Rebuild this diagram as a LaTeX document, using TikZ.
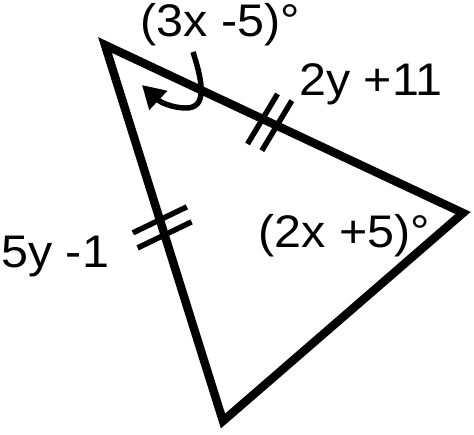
\documentclass[tikz,border=0pt]{standalone}
\usepackage{fontspec}
\setmainfont[FakeStretch=1.06]{Liberation Sans}
\usetikzlibrary{calc,arrows.meta}

\begin{document}
\begin{tikzpicture}[x=0.02cm,y=-0.02cm]
\tikzstyle{side}=[line width=4.8pt,line join=miter]
\tikzstyle{tick}=[line width=3.1pt]
\tikzstyle{lbl}=[inner sep=0pt,anchor=base west,font=\fontsize{26}{30}\selectfont]
    \useasboundingbox (0,0) rectangle (474,434);
    \coordinate (A) at (105,45);
    \coordinate (B) at (463,213);
    \coordinate (C) at (223,421);
    \draw[side] (A) -- (B) -- (C) -- cycle;
    % equal sides
    \draw[tick] ($(A)!0.44!(B)+(-15,25)$) -- ++(30,-50);
    \draw[tick] ($(A)!0.48!(B)+(-15,25)$) -- ++(30,-50);
    \draw[tick] ($(A)!0.465!(C)+(-27,13)$) -- ++(54,-26);
    \draw[tick] ($(A)!0.505!(C)+(-27,13)$) -- ++(54,-26);
    % angle arrow
    \coordinate (p) at (193,52);
    \coordinate (q) at (142,85);
    \draw[tick,-{Triangle[length=4.5mm,width=5mm]}] (p) .. controls (204,86) and (206,108) .. (186,108) .. controls (172,108) and (160,102) .. (q);
    \node[lbl] (angA) at (140,36) {(3x -5)°};
    \node[lbl] (angB) at (258,247) {(2x +5)°};
    \node[lbl] (sAB) at (299,95) {2y +11};
    \node[lbl] (sAC) at (1,267) {5y -1};
\end{tikzpicture}
\end{document}
